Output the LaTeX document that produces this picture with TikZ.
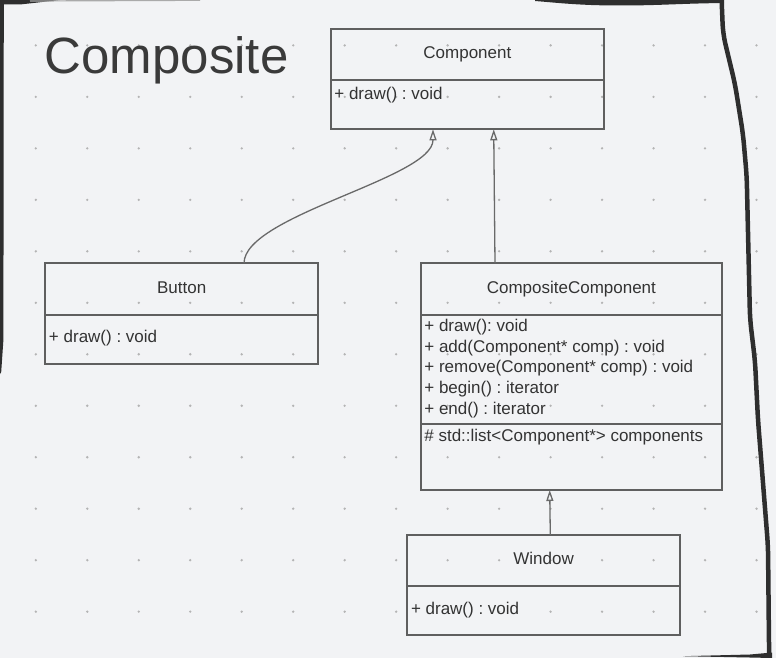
\documentclass[tikz,border=0pt]{standalone}
\usepackage{fontspec}
\setmainfont{Liberation Sans}
\usetikzlibrary{arrows.meta,calc}
\definecolor{bg}{RGB}{242,243,245}
\definecolor{framec}{RGB}{46,46,46}
\definecolor{boxline}{RGB}{95,95,95}
\definecolor{txt}{RGB}{51,51,51}
\definecolor{titlec}{RGB}{58,58,58}
\definecolor{dotc}{RGB}{180,180,180}
\definecolor{arr}{RGB}{105,105,105}
\definecolor{fadec}{RGB}{170,170,170}
\frenchspacing
\begin{document}
\begin{tikzpicture}[x=1bp,y=-1bp,
  umlhdr/.style={draw=boxline,line width=1.8bp,inner sep=0pt,outer sep=0pt,anchor=north west,text=txt,
    font=\fontsize{17bp}{20bp}\selectfont,text height=12bp,text depth=3.5bp},
  umlbody/.style={draw=boxline,line width=1.8bp,inner sep=0pt,outer sep=0pt,anchor=north west},
  member/.style={anchor=base west,inner sep=0pt,text=txt,font=\fontsize{17bp}{20bp}\selectfont},
  inh/.style={draw=arr,line width=1.3bp,-{Triangle[open,length=11bp,width=7bp]}},
  ]
\useasboundingbox (0,0) rectangle (776,658);
\fill[bg] (0,0) rectangle (776,658);
% dot grid
\foreach \i in {0,...,14}{
  \foreach \j in {0,...,11}{
    \fill[dotc] ({35.8+51.48*\i},{45.4+51.48*\j}) circle (1.3bp);
  }
}
% hand-drawn frame
\fill[framec] (0,0) -- (3.8,0) -- (3.4,340) -- (1.2,372) -- (0,374) -- cycle;
\fill[framec] (0,0) -- (60,0) .. controls (40,1.5) .. (20,4.5) -- (0,4.5) -- cycle;
\draw[fadec,line width=1.2bp] (30,1) -- (200,0.3);
\fill[framec] (535,0) -- (724,0) -- (724,3) .. controls (680,3.5) and (660,5.5) .. (620,5.5)
  .. controls (580,5.5) and (560,3) .. (535,1) -- cycle;
\draw[framec,line width=4.5bp,line join=round,rounded corners=10bp]
  (721.5,-3) -- (723,34) -- (735,84) -- (743,134) -- (746.7,176) -- (750,319)
  -- (755,361) -- (758,420) -- (768,546) -- (769,646) -- (769.5,662);
\fill[framec] (683,656.2) -- (750,654.5) -- (772,652.5) -- (772,658) -- (750,657.5) -- cycle;
% title
\node[anchor=base west,inner sep=0pt,text=titlec,font=\fontsize{51bp}{60bp}\selectfont]
  (title) at (44.5,73.3) {Composite};
% Component
\node[umlhdr,minimum width=273.3bp,minimum height=50.7bp] (compH) at (330.7,29.3) {Component};
\node[umlbody,minimum width=273.3bp,minimum height=49.3bp] (compB) at (compH.south west) {};
\node[member] (compm1) at ($(compB.north west)+(3.5,19.5)$) {+ draw() : void};
% Button
\node[umlhdr,minimum width=272.7bp,minimum height=51.4bp] (btnH) at (45.3,263.3) {Button};
\node[umlbody,minimum width=272.7bp,minimum height=49.3bp] (btnB) at (btnH.south west) {};
\node[member] (btnm1) at ($(btnB.north west)+(3.5,27.8)$) {+ draw() : void};
% CompositeComponent
\node[umlhdr,minimum width=301.3bp,minimum height=51.4bp] (ccH) at (420.7,263.3) {CompositeComponent};
\node[umlbody,minimum width=301.3bp,minimum height=109.3bp] (ccB1) at (ccH.south west) {};
\node[umlbody,minimum width=301.3bp,minimum height=66bp] (ccB2) at (ccB1.south west) {};
\node[member] (ccm1) at ($(ccB1.north west)+(3.5,16.8)$) {+ draw(): void};
\node[member] (ccm2) at ($(ccB1.north west)+(3.5,37.5)$) {+ add(Component* comp) : void};
\node[member] (ccm3) at ($(ccB1.north west)+(3.5,58.2)$) {+ remove(Component* comp) : void};
\node[member] (ccm4) at ($(ccB1.north west)+(3.5,78.9)$) {+ begin() : iterator};
\node[member] (ccm5) at ($(ccB1.north west)+(3.5,99.6)$) {+ end() : iterator};
\node[member] (cca1) at ($(ccB2.north west)+(3.5,17.3)$) {\# std::list<Component*> components};
% Window
\node[umlhdr,minimum width=272.7bp,minimum height=51bp] (winH) at (407.3,535) {Window};
\node[umlbody,minimum width=272.7bp,minimum height=48.7bp] (winB) at (winH.south west) {};
\node[member] (winm1) at ($(winB.north west)+(3.5,28)$) {+ draw() : void};
% inheritance arrows
\draw[inh] ([xshift=198.7bp]btnH.north west) .. controls +(0,-48) and +(0,49) .. ([xshift=102.3bp]compB.south west);
\draw[inh] ([xshift=74.3bp]ccH.north west) -- ([xshift=163bp]compB.south west);
\draw[inh] ([xshift=143bp]winH.north west) -- ([xshift=129bp]ccB2.south west);
\end{tikzpicture}
\end{document}
